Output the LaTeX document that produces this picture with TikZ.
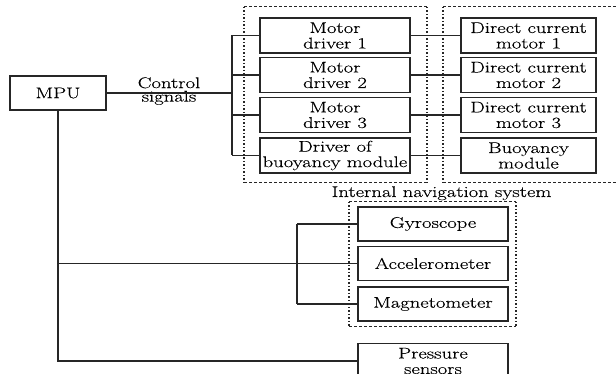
\documentclass[tikz,border=0pt]{standalone}
\usepackage{fontspec}
\setmainfont{Latin Modern Roman}[FakeStretch=1.33, FakeBold=0.3]
\begin{document}
\begin{tikzpicture}[x=1pt,y=-1pt,
  txt/.style={font=\fontsize{15.5}{15.5}\selectfont, align=center, inner sep=0pt},
  box/.style={txt, draw=black!85, line width=1.4pt, minimum height=35pt},
  drv/.style={box, minimum width=150pt},
  mot/.style={box, minimum width=135pt},
  ins/.style={box, minimum width=150pt, minimum height=34pt},
  wire/.style={draw=black!85, line width=1.1pt},
  frameh/.style={draw=black!85, line width=1pt, dash pattern=on 3pt off 2pt},
  framev/.style={draw=black!85, line width=1.2pt, dash pattern=on 1.3pt off 2.2pt}]
\clip (0,0) rectangle (616,374);
\fill[white] (0,0) rectangle (616,374);

% boxes
\node[box, minimum width=96pt, minimum height=34pt] (mpu) at (58,93) {MPU};
\node[drv] (d1) at (335,35.5) {Motor\\driver 1};
\node[drv] (d2) at (335,75) {Motor\\driver 2};
\node[drv] (d3) at (335,115) {Motor\\driver 3};
\node[drv] (d4) at (335,155.5) {Driver of\\buoyancy module};
\node[mot] (m1) at (528.5,35.5) {Direct current\\motor 1};
\node[mot] (m2) at (528.5,75) {Direct current\\motor 2};
\node[mot] (m3) at (528.5,115) {Direct current\\motor 3};
\node[mot] (m4) at (528.5,155.5) {Buoyancy\\module};
\node[ins] (gyro) at (433,224) {Gyroscope};
\node[ins] (acc) at (433,263.5) {Accelerometer};
\node[ins] (mag) at (433,304) {Magnetometer};
\node[box, minimum width=150pt] (ps) at (433,361) {Pressure\\sensors};

% labels
\node[txt, font=\fontsize{15.5}{13.5}\selectfont] (cs) at (169,91) {Control\\signals};
\node[txt, anchor=base] (insl) at (441.5,197) {Internal navigation system};

% frames
\coordinate (f1a) at (244,7);  \coordinate (f1b) at (427,183);
\coordinate (f2a) at (443,7);  \coordinate (f2b) at (640,183);
\coordinate (f3a) at (349,202); \coordinate (f3b) at (516,326);
\foreach \a/\b in {f1a/f1b, f2a/f2b, f3a/f3b}{
  \path[frameh] (\a) -- (\a -| \b) (\a |- \b) -- (\b);
  \path[framev] (\a) -- (\a |- \b) (\a -| \b) -- (\b);
}

% wiring
\coordinate (busA) at (232,0);
\coordinate (busB) at (297,0);
\path[wire] (mpu.east) -- (busA |- mpu.east);
\path[wire] (busA |- d1.west) -- (busA |- d4.west);
\foreach \n in {d1,d2,d3,d4} \path[wire] (busA |- \n.west) -- (\n.west);
\path[wire] (d1.east) -- (m1.west);
\path[wire] (d2.east) -- (m2.west);
\path[wire] (d3.east) -- (m3.west);
\path[wire] (d4.east) -- (m4.west);
\path[wire] (mpu.south) -- (mpu.south |- ps.west) -- (ps.west);
\path[wire] (mpu.south |- acc.west) -- (busB |- acc.west);
\path[wire] (busB |- gyro.west) -- (busB |- mag.west);
\foreach \n in {gyro,acc,mag} \path[wire] (busB |- \n.west) -- (\n.west);
\end{tikzpicture}
\end{document}
